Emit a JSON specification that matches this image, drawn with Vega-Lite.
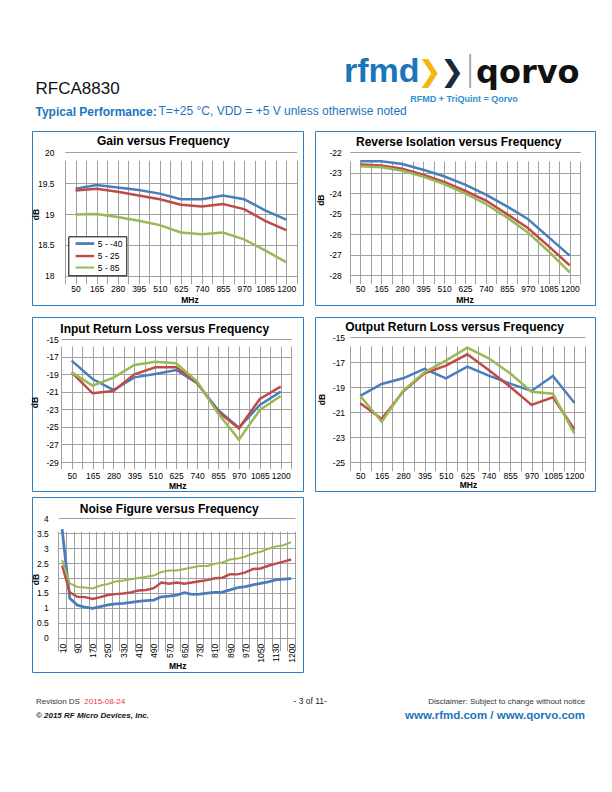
{
  "$schema": "https://vega.github.io/schema/vega-lite/v6.json",
  "background": "#ffffff",
  "padding": {"left": 27, "top": 54, "right": 10, "bottom": 10},
  "config": {
    "font": "Liberation Sans",
    "view": {"stroke": null},
    "axis": {"grid": true, "gridColor": "#A0A0A0", "gridWidth": 1, "domain": false, "ticks": false, "tickSize": 0,
      "labelFont": "Liberation Sans", "labelFontSize": 8.5, "labelColor": "#000000",
      "titleFont": "Liberation Sans", "titleFontSize": 8.5, "titleFontWeight": "bold", "titleColor": "#000000",
      "labelOverlap": false, "labelFlush": false},
    "legend": {"symbolType": "M0,0H8", "symbolSize": 21.6, "symbolStrokeWidth": 3, "labelFont": "Liberation Sans",
      "labelFontSize": 8.5, "labelColor": "#000000", "labelOffset": 18, "strokeColor": "#000000", "fillColor": "#ffffff",
      "padding": 3, "rowPadding": 1.5},
    "title": {"font": "Liberation Sans", "fontSize": 12, "fontWeight": "bold", "color": "#000000"}
  },
  "datasets": {
    "gain": [
      {"freq": 50, "series": "5 - -40", "dB": 19.41}, {"freq": 165, "series": "5 - -40", "dB": 19.47}, {"freq": 280, "series": "5 - -40", "dB": 19.43}, {"freq": 395, "series": "5 - -40", "dB": 19.39}, {"freq": 510, "series": "5 - -40", "dB": 19.33}, {"freq": 625, "series": "5 - -40", "dB": 19.24}, {"freq": 740, "series": "5 - -40", "dB": 19.24}, {"freq": 855, "series": "5 - -40", "dB": 19.30}, {"freq": 970, "series": "5 - -40", "dB": 19.24}, {"freq": 1085, "series": "5 - -40", "dB": 19.06}, {"freq": 1200, "series": "5 - -40", "dB": 18.91},
      {"freq": 50, "series": "5 - 25", "dB": 19.38}, {"freq": 165, "series": "5 - 25", "dB": 19.41}, {"freq": 280, "series": "5 - 25", "dB": 19.36}, {"freq": 395, "series": "5 - 25", "dB": 19.30}, {"freq": 510, "series": "5 - 25", "dB": 19.24}, {"freq": 625, "series": "5 - 25", "dB": 19.15}, {"freq": 740, "series": "5 - 25", "dB": 19.12}, {"freq": 855, "series": "5 - 25", "dB": 19.16}, {"freq": 970, "series": "5 - 25", "dB": 19.08}, {"freq": 1085, "series": "5 - 25", "dB": 18.89}, {"freq": 1200, "series": "5 - 25", "dB": 18.74},
      {"freq": 50, "series": "5 - 85", "dB": 18.99}, {"freq": 165, "series": "5 - 85", "dB": 19.00}, {"freq": 280, "series": "5 - 85", "dB": 18.95}, {"freq": 395, "series": "5 - 85", "dB": 18.89}, {"freq": 510, "series": "5 - 85", "dB": 18.82}, {"freq": 625, "series": "5 - 85", "dB": 18.70}, {"freq": 740, "series": "5 - 85", "dB": 18.67}, {"freq": 855, "series": "5 - 85", "dB": 18.70}, {"freq": 970, "series": "5 - 85", "dB": 18.59}, {"freq": 1085, "series": "5 - 85", "dB": 18.41}, {"freq": 1200, "series": "5 - 85", "dB": 18.22}
    ],
    "rev": [
      {"freq": 50, "series": "5 - -40", "dB": -22.44}, {"freq": 165, "series": "5 - -40", "dB": -22.44}, {"freq": 280, "series": "5 - -40", "dB": -22.57}, {"freq": 395, "series": "5 - -40", "dB": -22.85}, {"freq": 510, "series": "5 - -40", "dB": -23.17}, {"freq": 625, "series": "5 - -40", "dB": -23.58}, {"freq": 740, "series": "5 - -40", "dB": -24.07}, {"freq": 855, "series": "5 - -40", "dB": -24.64}, {"freq": 970, "series": "5 - -40", "dB": -25.26}, {"freq": 1085, "series": "5 - -40", "dB": -26.16}, {"freq": 1200, "series": "5 - -40", "dB": -27.05},
      {"freq": 50, "series": "5 - 25", "dB": -22.60}, {"freq": 165, "series": "5 - 25", "dB": -22.64}, {"freq": 280, "series": "5 - 25", "dB": -22.80}, {"freq": 395, "series": "5 - 25", "dB": -23.09}, {"freq": 510, "series": "5 - 25", "dB": -23.45}, {"freq": 625, "series": "5 - 25", "dB": -23.88}, {"freq": 740, "series": "5 - 25", "dB": -24.36}, {"freq": 855, "series": "5 - 25", "dB": -25.02}, {"freq": 970, "series": "5 - 25", "dB": -25.70}, {"freq": 1085, "series": "5 - 25", "dB": -26.60}, {"freq": 1200, "series": "5 - 25", "dB": -27.53},
      {"freq": 50, "series": "5 - 85", "dB": -22.68}, {"freq": 165, "series": "5 - 85", "dB": -22.73}, {"freq": 280, "series": "5 - 85", "dB": -22.90}, {"freq": 395, "series": "5 - 85", "dB": -23.19}, {"freq": 510, "series": "5 - 85", "dB": -23.55}, {"freq": 625, "series": "5 - 85", "dB": -24.01}, {"freq": 740, "series": "5 - 85", "dB": -24.53}, {"freq": 855, "series": "5 - 85", "dB": -25.18}, {"freq": 970, "series": "5 - 85", "dB": -25.92}, {"freq": 1085, "series": "5 - 85", "dB": -26.85}, {"freq": 1200, "series": "5 - 85", "dB": -27.87}
    ],
    "irl": [
      {"freq": 50, "series": "5 - -40", "dB": -17.43}, {"freq": 165, "series": "5 - -40", "dB": -19.53}, {"freq": 280, "series": "5 - -40", "dB": -20.78}, {"freq": 395, "series": "5 - -40", "dB": -19.34}, {"freq": 510, "series": "5 - -40", "dB": -18.96}, {"freq": 625, "series": "5 - -40", "dB": -18.50}, {"freq": 740, "series": "5 - -40", "dB": -20.02}, {"freq": 855, "series": "5 - -40", "dB": -23.06}, {"freq": 970, "series": "5 - -40", "dB": -25.08}, {"freq": 1085, "series": "5 - -40", "dB": -22.49}, {"freq": 1200, "series": "5 - -40", "dB": -20.97},
      {"freq": 50, "series": "5 - 25", "dB": -18.77}, {"freq": 165, "series": "5 - 25", "dB": -21.16}, {"freq": 280, "series": "5 - 25", "dB": -20.90}, {"freq": 395, "series": "5 - 25", "dB": -19.00}, {"freq": 510, "series": "5 - 25", "dB": -18.20}, {"freq": 625, "series": "5 - 25", "dB": -18.20}, {"freq": 740, "series": "5 - 25", "dB": -19.95}, {"freq": 855, "series": "5 - 25", "dB": -23.26}, {"freq": 970, "series": "5 - 25", "dB": -25.16}, {"freq": 1085, "series": "5 - 25", "dB": -21.81}, {"freq": 1200, "series": "5 - 25", "dB": -20.40},
      {"freq": 50, "series": "5 - 85", "dB": -18.77}, {"freq": 165, "series": "5 - 85", "dB": -20.29}, {"freq": 280, "series": "5 - 85", "dB": -19.38}, {"freq": 395, "series": "5 - 85", "dB": -17.93}, {"freq": 510, "series": "5 - 85", "dB": -17.56}, {"freq": 625, "series": "5 - 85", "dB": -17.74}, {"freq": 740, "series": "5 - 85", "dB": -19.83}, {"freq": 855, "series": "5 - 85", "dB": -23.45}, {"freq": 970, "series": "5 - 85", "dB": -26.45}, {"freq": 1085, "series": "5 - 85", "dB": -23.06}, {"freq": 1200, "series": "5 - 85", "dB": -21.46}
    ],
    "orl": [
      {"freq": 50, "series": "5 - -40", "dB": -19.69}, {"freq": 165, "series": "5 - -40", "dB": -18.73}, {"freq": 280, "series": "5 - -40", "dB": -18.28}, {"freq": 395, "series": "5 - -40", "dB": -17.53}, {"freq": 510, "series": "5 - -40", "dB": -18.28}, {"freq": 625, "series": "5 - -40", "dB": -17.35}, {"freq": 740, "series": "5 - -40", "dB": -18.07}, {"freq": 855, "series": "5 - -40", "dB": -18.71}, {"freq": 970, "series": "5 - -40", "dB": -19.29}, {"freq": 1085, "series": "5 - -40", "dB": -18.09}, {"freq": 1200, "series": "5 - -40", "dB": -20.23},
      {"freq": 50, "series": "5 - 25", "dB": -20.28}, {"freq": 165, "series": "5 - 25", "dB": -21.53}, {"freq": 280, "series": "5 - 25", "dB": -19.35}, {"freq": 395, "series": "5 - 25", "dB": -17.88}, {"freq": 510, "series": "5 - 25", "dB": -17.27}, {"freq": 625, "series": "5 - 25", "dB": -16.36}, {"freq": 740, "series": "5 - 25", "dB": -17.61}, {"freq": 855, "series": "5 - 25", "dB": -18.95}, {"freq": 970, "series": "5 - 25", "dB": -20.41}, {"freq": 1085, "series": "5 - 25", "dB": -19.80}, {"freq": 1200, "series": "5 - 25", "dB": -22.36},
      {"freq": 50, "series": "5 - 85", "dB": -19.69}, {"freq": 165, "series": "5 - 85", "dB": -21.75}, {"freq": 280, "series": "5 - 85", "dB": -19.29}, {"freq": 395, "series": "5 - 85", "dB": -17.80}, {"freq": 510, "series": "5 - 85", "dB": -16.87}, {"freq": 625, "series": "5 - 85", "dB": -15.83}, {"freq": 740, "series": "5 - 85", "dB": -16.68}, {"freq": 855, "series": "5 - 85", "dB": -17.88}, {"freq": 970, "series": "5 - 85", "dB": -19.35}, {"freq": 1085, "series": "5 - 85", "dB": -19.51}, {"freq": 1200, "series": "5 - 85", "dB": -22.68}
    ],
    "nf": [
      {"freq": 10, "series": "5 - -40", "dB": 3.64}, {"freq": 50, "series": "5 - -40", "dB": 1.32}, {"freq": 90, "series": "5 - -40", "dB": 1.09}, {"freq": 130, "series": "5 - -40", "dB": 1.02}, {"freq": 170, "series": "5 - -40", "dB": 0.98}, {"freq": 210, "series": "5 - -40", "dB": 1.04}, {"freq": 250, "series": "5 - -40", "dB": 1.10}, {"freq": 290, "series": "5 - -40", "dB": 1.13}, {"freq": 330, "series": "5 - -40", "dB": 1.15}, {"freq": 370, "series": "5 - -40", "dB": 1.18}, {"freq": 410, "series": "5 - -40", "dB": 1.22}, {"freq": 450, "series": "5 - -40", "dB": 1.24}, {"freq": 490, "series": "5 - -40", "dB": 1.26}, {"freq": 530, "series": "5 - -40", "dB": 1.37}, {"freq": 570, "series": "5 - -40", "dB": 1.39}, {"freq": 610, "series": "5 - -40", "dB": 1.43}, {"freq": 650, "series": "5 - -40", "dB": 1.51}, {"freq": 690, "series": "5 - -40", "dB": 1.45}, {"freq": 730, "series": "5 - -40", "dB": 1.46}, {"freq": 770, "series": "5 - -40", "dB": 1.49}, {"freq": 810, "series": "5 - -40", "dB": 1.52}, {"freq": 850, "series": "5 - -40", "dB": 1.53}, {"freq": 890, "series": "5 - -40", "dB": 1.60}, {"freq": 930, "series": "5 - -40", "dB": 1.68}, {"freq": 970, "series": "5 - -40", "dB": 1.71}, {"freq": 1010, "series": "5 - -40", "dB": 1.77}, {"freq": 1050, "series": "5 - -40", "dB": 1.82}, {"freq": 1090, "series": "5 - -40", "dB": 1.87}, {"freq": 1130, "series": "5 - -40", "dB": 1.94}, {"freq": 1170, "series": "5 - -40", "dB": 1.96}, {"freq": 1200, "series": "5 - -40", "dB": 1.98},
      {"freq": 10, "series": "5 - 25", "dB": 2.42}, {"freq": 50, "series": "5 - 25", "dB": 1.52}, {"freq": 90, "series": "5 - 25", "dB": 1.37}, {"freq": 130, "series": "5 - 25", "dB": 1.36}, {"freq": 170, "series": "5 - 25", "dB": 1.30}, {"freq": 210, "series": "5 - 25", "dB": 1.36}, {"freq": 250, "series": "5 - 25", "dB": 1.43}, {"freq": 290, "series": "5 - 25", "dB": 1.46}, {"freq": 330, "series": "5 - 25", "dB": 1.48}, {"freq": 370, "series": "5 - 25", "dB": 1.52}, {"freq": 410, "series": "5 - 25", "dB": 1.58}, {"freq": 450, "series": "5 - 25", "dB": 1.60}, {"freq": 490, "series": "5 - 25", "dB": 1.66}, {"freq": 530, "series": "5 - 25", "dB": 1.85}, {"freq": 570, "series": "5 - 25", "dB": 1.81}, {"freq": 610, "series": "5 - 25", "dB": 1.85}, {"freq": 650, "series": "5 - 25", "dB": 1.81}, {"freq": 690, "series": "5 - 25", "dB": 1.85}, {"freq": 730, "series": "5 - 25", "dB": 1.89}, {"freq": 770, "series": "5 - 25", "dB": 1.93}, {"freq": 810, "series": "5 - 25", "dB": 1.99}, {"freq": 850, "series": "5 - 25", "dB": 2.01}, {"freq": 890, "series": "5 - 25", "dB": 2.13}, {"freq": 930, "series": "5 - 25", "dB": 2.12}, {"freq": 970, "series": "5 - 25", "dB": 2.19}, {"freq": 1010, "series": "5 - 25", "dB": 2.30}, {"freq": 1050, "series": "5 - 25", "dB": 2.32}, {"freq": 1090, "series": "5 - 25", "dB": 2.41}, {"freq": 1130, "series": "5 - 25", "dB": 2.48}, {"freq": 1170, "series": "5 - 25", "dB": 2.55}, {"freq": 1200, "series": "5 - 25", "dB": 2.62},
      {"freq": 10, "series": "5 - 85", "dB": 2.60}, {"freq": 50, "series": "5 - 85", "dB": 1.82}, {"freq": 90, "series": "5 - 85", "dB": 1.70}, {"freq": 130, "series": "5 - 85", "dB": 1.68}, {"freq": 170, "series": "5 - 85", "dB": 1.65}, {"freq": 210, "series": "5 - 85", "dB": 1.75}, {"freq": 250, "series": "5 - 85", "dB": 1.80}, {"freq": 290, "series": "5 - 85", "dB": 1.88}, {"freq": 330, "series": "5 - 85", "dB": 1.92}, {"freq": 370, "series": "5 - 85", "dB": 1.96}, {"freq": 410, "series": "5 - 85", "dB": 2.00}, {"freq": 450, "series": "5 - 85", "dB": 2.04}, {"freq": 490, "series": "5 - 85", "dB": 2.08}, {"freq": 530, "series": "5 - 85", "dB": 2.20}, {"freq": 570, "series": "5 - 85", "dB": 2.25}, {"freq": 610, "series": "5 - 85", "dB": 2.25}, {"freq": 650, "series": "5 - 85", "dB": 2.30}, {"freq": 690, "series": "5 - 85", "dB": 2.35}, {"freq": 730, "series": "5 - 85", "dB": 2.40}, {"freq": 770, "series": "5 - 85", "dB": 2.40}, {"freq": 810, "series": "5 - 85", "dB": 2.48}, {"freq": 850, "series": "5 - 85", "dB": 2.52}, {"freq": 890, "series": "5 - 85", "dB": 2.62}, {"freq": 930, "series": "5 - 85", "dB": 2.65}, {"freq": 970, "series": "5 - 85", "dB": 2.72}, {"freq": 1010, "series": "5 - 85", "dB": 2.82}, {"freq": 1050, "series": "5 - 85", "dB": 2.88}, {"freq": 1090, "series": "5 - 85", "dB": 2.98}, {"freq": 1130, "series": "5 - 85", "dB": 3.06}, {"freq": 1170, "series": "5 - 85", "dB": 3.10}, {"freq": 1200, "series": "5 - 85", "dB": 3.20}
    ]
  },
  "title": {"text": "RFMD + TriQuint = Qorvo", "anchor": "start", "frame": "bounds", "dx": 382.8, "dy": 50, "offset": 0, "fontSize": 9, "fontWeight": "bold", "color": "#2F8FD3"},
  "vconcat": [{
    "title": {"text": "rfmd", "anchor": "start", "frame": "bounds", "dx": 316.5, "dy": 35.3, "offset": 0, "font": "Liberation Sans Narrow, Liberation Sans", "fontSize": 34, "fontWeight": "bold", "color": "#1A75BB"},
    "vconcat": [{
      "title": {"text": "❯", "anchor": "start", "frame": "bounds", "dx": 390, "dy": 32.5, "offset": 0, "font": "DejaVu Sans", "fontSize": 29, "fontWeight": "bold", "color": "#F5B50F"},
      "vconcat": [{
        "title": {"text": "❯", "anchor": "start", "frame": "bounds", "dx": 412.5, "dy": 32.5, "offset": 0, "font": "DejaVu Sans", "fontSize": 29, "fontWeight": "bold", "color": "#1C2B39"},
        "vconcat": [{
          "title": {"text": "|", "anchor": "start", "frame": "bounds", "dx": 437, "dy": 29.7, "offset": 0, "font": "DejaVu Sans", "fontSize": 33, "fontWeight": 200, "color": "#9A9A9A"},
          "vconcat": [{
            "title": {"text": "qorvo", "anchor": "start", "frame": "bounds", "dx": 448.5, "dy": 10.3, "offset": 0, "font": "DejaVu Sans", "fontSize": 32, "fontWeight": "bold", "color": "#111111"},
            "vconcat": [{
              "title": {"text": "Disclaimer: Subject to change without notice", "subtitle": "www.rfmd.com / www.qorvo.com", "orient": "bottom", "anchor": "start", "frame": "bounds", "align": "right", "dx": 557.6, "dy": -21.9, "offset": 0, "fontSize": 8, "fontWeight": "normal", "color": "#333333", "subtitleFont": "Liberation Sans", "subtitleFontSize": 11.5, "subtitleFontWeight": "bold", "subtitleColor": "#1F74BA", "subtitlePadding": 3.4},
              "vconcat": [{
                "title": {"text": "- 3 of 11-", "orient": "bottom", "anchor": "start", "frame": "bounds", "dx": 266, "dy": -23.2, "offset": 0, "fontSize": 8.5, "fontWeight": "normal", "color": "#222222"},
                "vconcat": [{
                  "title": {"text": "2015-08-24", "orient": "bottom", "anchor": "start", "frame": "bounds", "dx": 56.8, "dy": -21.9, "offset": 0, "fontSize": 8, "fontWeight": "normal", "color": "#E8413E"},
                  "vconcat": [{
                    "title": {"text": "Revision DS", "subtitle": "© 2015 RF Micro Devices, Inc.", "orient": "bottom", "anchor": "start", "frame": "bounds", "dx": 8.4, "offset": 25.8, "fontSize": 8, "fontWeight": "normal", "color": "#333333", "subtitleFont": "Liberation Sans", "subtitleFontSize": 8, "subtitleFontWeight": "bold", "subtitleFontStyle": "italic", "subtitleColor": "#111111", "subtitlePadding": 5.9},
                    "vconcat": [{
                      "title": {"text": "RFCA8830", "anchor": "start", "frame": "bounds", "dx": 8, "offset": 6.5, "fontSize": 17, "fontWeight": "normal", "color": "#111111"},
                      "vconcat": [{
                        "title": {"text": "T=+25 °C, VDD = +5 V unless otherwise noted", "anchor": "start", "frame": "bounds", "dx": 131, "dy": 12, "offset": 0, "fontSize": 12, "fontWeight": "normal", "color": "#1B75BC"},
                        "vconcat": [{
                          "title": {"text": "Typical Performance:", "anchor": "start", "frame": "bounds", "dx": 8, "offset": 12, "fontSize": 12, "fontWeight": "bold", "color": "#1B75BC"},
                          "spacing": 4,
                          "vconcat": [
                            {"spacing": 10, "vconcat": [
                              {"spacing": 12, "bounds": "flush", "hconcat": [
                                {
                                  "width": 271, "height": 174,
                                  "view": {"stroke": "#2E7CC2", "strokeWidth": 1, "fill": "#ffffff"},
                                  "title": {"text": "Gain versus Frequency", "anchor": "middle", "frame": "group", "offset": -16.8, "dx": -4.2},
                                  "data": {"name": "gain"},
                                  "mark": {"type": "line", "strokeWidth": 2.5},
                                  "encoding": {
                                    "x": {"field": "freq", "type": "quantitative", "scale": {"domain": [-7.5, 1257.5], "range": [33, 264.7], "nice": false, "zero": false},
                                      "axis": {"values": [-7.5,50,107.5,165,222.5,280,337.5,395,452.5,510,567.5,625,682.5,740,797.5,855,912.5,970,1027.5,1085,1142.5,1200,1257.5], "labelExpr": "(datum.value - 50) % 115 == 0 ? '' + datum.value : ''", "offset": -29.3, "labelPadding": 9, "title": "MHz", "titleX": 157.5, "titleY": 19.6, "titleBaseline": "top"}},
                                    "y": {"field": "dB", "type": "quantitative", "scale": {"domain": [18, 20], "range": [144.7, 21.3], "nice": false, "zero": false},
                                      "axis": {"values": [18, 18.5, 19, 19.5, 20], "labelExpr": "'' + datum.value", "offset": -33, "labelPadding": 11, "title": "dB", "titleX": -30, "titleY": 83, "titleBaseline": "middle"}},
                                    "color": {"field": "series", "type": "nominal", "scale": {"domain": ["5 - -40", "5 - 25", "5 - 85"], "range": ["#4A7EBB", "#BE4B48", "#98B954"]}, "legend": {"orient": "none", "legendX": 36.3, "legendY": 105.3, "title": null}}
                                  }
                                },
                                {
                                  "width": 280, "height": 174,
                                  "view": {"stroke": "#2E7CC2", "strokeWidth": 1, "fill": "#ffffff"},
                                  "title": {"text": "Reverse Isolation versus Frequency", "anchor": "middle", "frame": "group", "offset": -17.8, "dx": 3.7},
                                  "data": {"name": "rev"},
                                  "mark": {"type": "line", "strokeWidth": 2.5},
                                  "encoding": {
                                    "x": {"field": "freq", "type": "quantitative", "scale": {"domain": [-7.5, 1257.5], "range": [34.8, 265.2], "nice": false, "zero": false},
                                      "axis": {"values": [-7.5,50,107.5,165,222.5,280,337.5,395,452.5,510,567.5,625,682.5,740,797.5,855,912.5,970,1027.5,1085,1142.5,1200,1257.5], "labelExpr": "(datum.value - 50) % 115 == 0 ? '' + datum.value : ''", "offset": -30, "labelPadding": 9.7, "title": "MHz", "titleX": 149.5, "titleY": 20.7, "titleBaseline": "top"}},
                                    "y": {"field": "dB", "type": "quantitative", "scale": {"domain": [-28, -22], "range": [144, 21.3], "nice": false, "zero": false},
                                      "axis": {"values": [-28, -27, -26, -25, -24, -23, -22], "labelExpr": "'' + datum.value", "offset": -34.8, "labelPadding": 8.5, "title": "dB", "titleX": -29.8, "titleY": 68.7, "titleBaseline": "middle"}},
                                    "color": {"field": "series", "type": "nominal", "scale": {"domain": ["5 - -40", "5 - 25", "5 - 85"], "range": ["#4A7EBB", "#BE4B48", "#98B954"]}, "legend": {"orient": "none", "legendX": 48, "legendY": 92, "title": null}}
                                  }
                                }
                              ]},
                              {"spacing": 12, "bounds": "flush", "hconcat": [
                                {
                                  "width": 271, "height": 174,
                                  "view": {"stroke": "#2E7CC2", "strokeWidth": 1, "fill": "#ffffff"},
                                  "title": {"text": "Input Return Loss versus Frequency", "anchor": "middle", "frame": "group", "offset": -18.8, "dx": -2.8},
                                  "data": {"name": "irl"},
                                  "mark": {"type": "line", "strokeWidth": 2.5},
                                  "encoding": {
                                    "x": {"field": "freq", "type": "quantitative", "scale": {"domain": [-7.5, 1257.5], "range": [29.2, 259.2], "nice": false, "zero": false},
                                      "axis": {"values": [-7.5,50,107.5,165,222.5,280,337.5,395,452.5,510,567.5,625,682.5,740,797.5,855,912.5,970,1027.5,1085,1142.5,1200,1257.5], "labelExpr": "(datum.value - 50) % 115 == 0 ? '' + datum.value : ''", "offset": -29, "labelPadding": 9.7, "title": "MHz", "titleX": 145.2, "titleY": 19, "titleBaseline": "top"}},
                                    "y": {"field": "dB", "type": "quantitative", "scale": {"domain": [-29, -15], "range": [145, 22.3], "nice": false, "zero": false},
                                      "axis": {"values": [-29, -27, -25, -23, -21, -19, -17, -15], "labelExpr": "'' + datum.value", "offset": -29.2, "labelPadding": 3, "title": "dB", "titleX": -27, "titleY": 85, "titleBaseline": "middle"}},
                                    "color": {"field": "series", "type": "nominal", "scale": {"domain": ["5 - -40", "5 - 25", "5 - 85"], "range": ["#4A7EBB", "#BE4B48", "#98B954"]}, "legend": {"orient": "none", "legendX": 34.7, "legendY": 106.3, "title": null}}
                                  }
                                },
                                {
                                  "width": 280, "height": 174,
                                  "view": {"stroke": "#2E7CC2", "strokeWidth": 1, "fill": "#ffffff"},
                                  "title": {"text": "Output Return Loss versus Frequency", "anchor": "middle", "frame": "group", "offset": -17.2, "dx": -0.5},
                                  "data": {"name": "orl"},
                                  "mark": {"type": "line", "strokeWidth": 2.5},
                                  "encoding": {
                                    "x": {"field": "freq", "type": "quantitative", "scale": {"domain": [-7.5, 1257.5], "range": [34.6, 270], "nice": false, "zero": false},
                                      "axis": {"values": [-7.5,50,107.5,165,222.5,280,337.5,395,452.5,510,567.5,625,682.5,740,797.5,855,912.5,970,1027.5,1085,1142.5,1200,1257.5], "labelExpr": "(datum.value - 50) % 115 == 0 ? '' + datum.value : ''", "offset": -28.7, "labelPadding": 9.4, "title": "MHz", "titleX": 153, "titleY": 18.4, "titleBaseline": "top"}},
                                    "y": {"field": "dB", "type": "quantitative", "scale": {"domain": [-25, -15], "range": [145.3, 20.3], "nice": false, "zero": false},
                                      "axis": {"values": [-25, -23, -21, -19, -17, -15], "labelExpr": "'' + datum.value", "offset": -34.6, "labelPadding": 5, "title": "dB", "titleX": -27.8, "titleY": 82, "titleBaseline": "middle"}},
                                    "color": {"field": "series", "type": "nominal", "scale": {"domain": ["5 - -40", "5 - 25", "5 - 85"], "range": ["#4A7EBB", "#BE4B48", "#98B954"]}, "legend": {"orient": "none", "legendX": 38, "legendY": 108, "title": null}}
                                  }
                                }
                              ]}
                            ]},
                            {
                              "width": 271, "height": 175,
                              "view": {"stroke": "#2E7CC2", "strokeWidth": 1, "fill": "#ffffff"},
                              "title": {"text": "Noise Figure versus Frequency", "anchor": "middle", "frame": "group", "offset": -18.8, "dx": 1.7},
                              "data": {"name": "nf"},
                              "mark": {"type": "line"},
                              "encoding": {
                                "x": {"field": "freq", "type": "ordinal", "bandPosition": 0.5, "scale": {"type": "band", "range": [26.3, 263], "paddingInner": 0, "paddingOuter": 0},
                                  "axis": {"tickBand": "extent", "labelAngle": -90, "labelAlign": "right", "labelBaseline": "middle", "labelExpr": "((datum.value - 10) % 80 == 0 || datum.value == 1200) ? '' + datum.value : ''", "offset": -34.3, "labelPadding": 5.6, "title": "MHz", "titleX": 145.2, "titleY": 23.3, "titleBaseline": "top"}},
                                "y": {"field": "dB", "type": "quantitative", "scale": {"domain": [0, 4], "range": [140.7, 21.3], "nice": false, "zero": false},
                                  "axis": {"values": [0, 0.5, 1, 1.5, 2, 2.5, 3, 3.5, 4], "labelExpr": "'' + datum.value", "offset": -26.3, "labelPadding": 10, "title": "dB", "titleX": -22.5, "titleY": 82, "titleBaseline": "middle"}},
                                "color": {"field": "series", "type": "nominal", "scale": {"domain": ["5 - -40", "5 - 25", "5 - 85"], "range": ["#1F6FB5", "#C0504D", "#9BBB59"]}, "legend": {"orient": "none", "legendX": 204, "legendY": 101.3, "title": null}},
                                "strokeWidth": {"field": "series", "type": "nominal", "scale": {"domain": ["5 - -40", "5 - 25", "5 - 85"], "range": [2.8, 2, 2.5]}, "legend": null}
                              }
                            }
                          ]
                        }]
                      }]
                    }]
                  }]
                }]
              }]
            }]
          }]
        }]
      }]
    }]
  }]
}
